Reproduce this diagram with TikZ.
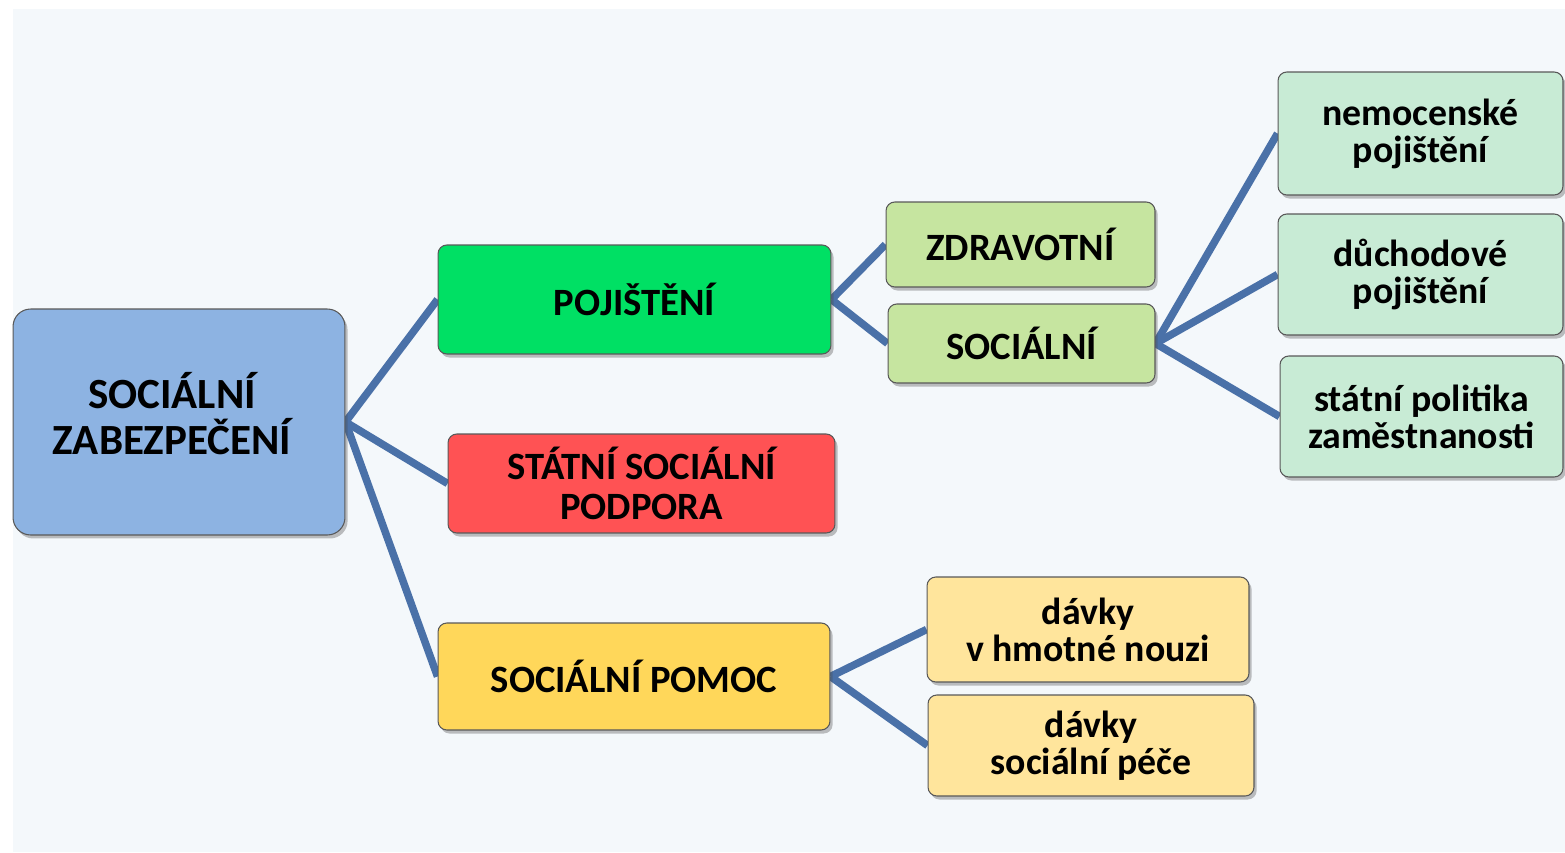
\documentclass[tikz,border=0pt]{standalone}
\usepackage{fontspec}
\setmainfont{Carlito}
\usepackage{tikz}
\usetikzlibrary{shapes,positioning,shadows}

\definecolor{bgblue}{HTML}{F4F8FB}
\definecolor{linkblue}{HTML}{4A71A8}
\definecolor{rootblue}{HTML}{8DB3E2}
\definecolor{pojgreen}{HTML}{00E064}
\definecolor{sspred}{HTML}{FF5254}
\definecolor{pomyellow}{HTML}{FFD75A}
\definecolor{lightgreen}{HTML}{C6E5A0}
\definecolor{mint}{HTML}{C8EBD5}
\definecolor{paleyellow}{HTML}{FFE59C}

\pgfdeclarelayer{background}
\pgfsetlayers{background,main}

\tikzset{
  box/.style={draw=black!65, line width=0.6pt, rounded corners=5pt, align=center,
    inner sep=0pt, font=\bfseries\fontsize{22}{22.7}\selectfont,
    drop shadow={shadow xshift=1.5pt, shadow yshift=-2pt, opacity=0.35, fill=black!70}},
  rootbox/.style={box, fill=rootblue, rounded corners=10pt, font=\bfseries\fontsize{24.5}{26.5}\selectfont},
  lowbox/.style={box, font=\bfseries\fontsize{21.5}{21}\selectfont},
  link/.style={linkblue, line width=4.3pt},
}

\begin{document}
\begin{tikzpicture}[x=0.02cm, y=-0.02cm]
\useasboundingbox (0,0) rectangle (1565,852);
\begin{pgfonlayer}{background}
\fill[bgblue] (13,9) rectangle (1565,852);
\end{pgfonlayer}

% hlavni uzel
\node[rootbox, minimum width=6.64cm, minimum height=4.52cm] (root) at (179,422) {SOCIÁLNÍ\hspace*{8pt}\\ZABEZPEČENÍ\hspace*{8pt}\rule[-0.4em]{0pt}{0pt}};

% prvni uroven
\node[box, fill=pojgreen, minimum width=7.86cm, minimum height=2.18cm] (poj) at (634.5,299.5) {POJIŠTĚNÍ};
\node[box, fill=sspred, minimum width=7.74cm, minimum height=1.98cm] (ssp) at (641.5,483.5) {STÁTNÍ SOCIÁLNÍ\\PODPORA};
\node[box, fill=pomyellow, minimum width=7.84cm, minimum height=2.14cm] (pomoc) at (634,676.5) {SOCIÁLNÍ POMOC};

% pojisteni
\node[box, fill=lightgreen, minimum width=5.38cm, minimum height=1.70cm] (zdrav) at (1020.5,244.5) {ZDRAVOTNÍ};
\node[box, fill=lightgreen, minimum width=5.34cm, minimum height=1.58cm] (soc) at (1021.5,343.5) {SOCIÁLNÍ};

\node[lowbox, fill=mint, minimum width=5.70cm, minimum height=2.46cm] (nemoc) at (1420.5,133.5) {nemocenské\\pojištění};
\node[lowbox, fill=mint, minimum width=5.70cm, minimum height=2.42cm] (duch) at (1420.5,274.5) {důchodové\\pojištění};
\node[lowbox, fill=mint, minimum width=5.66cm, minimum height=2.42cm] (spz) at (1421.5,416.5) {státní politika\\zaměstnanosti};

% socialni pomoc
\node[lowbox, fill=paleyellow, minimum width=6.44cm, minimum height=2.10cm] (hmot) at (1088,629.5) {dávky\\v hmotné nouzi};
\node[lowbox, fill=paleyellow, minimum width=6.52cm, minimum height=2.02cm] (pece) at (1091,745.5) {dávky\\sociální péče};

% spojnice
\begin{pgfonlayer}{background}
\draw[link] (root.east) -- (poj.west);
\draw[link] (root.east) -- (ssp.west);
\draw[link] (root.east) -- (pomoc.west);
\draw[link] (poj.east) -- (zdrav.west);
\draw[link] (poj.east) -- (soc.west);
\draw[link] (soc.east) -- (nemoc.west);
\draw[link] (soc.east) -- (duch.west);
\draw[link] (soc.east) -- (spz.west);
\draw[link] (pomoc.east) -- (hmot.west);
\draw[link] (pomoc.east) -- (pece.west);
\end{pgfonlayer}

\end{tikzpicture}
\end{document}
